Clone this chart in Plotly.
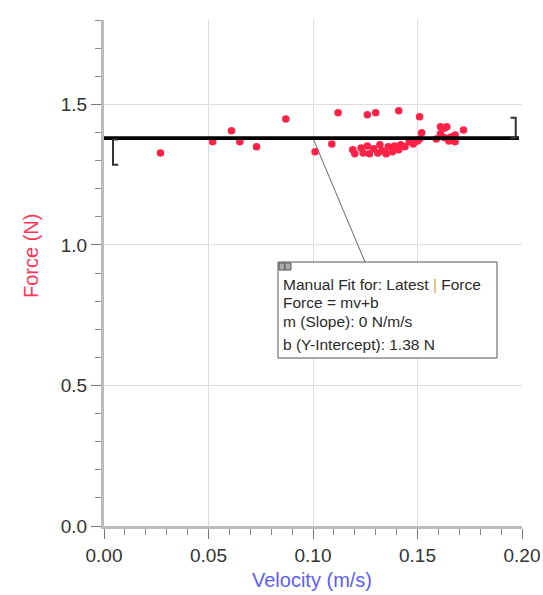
import plotly.graph_objects as go

# ---- data ----
velocity = [0.027, 0.052, 0.061, 0.065, 0.073, 0.087, 0.101, 0.109, 0.112, 0.126,
            0.130, 0.141, 0.151, 0.152, 0.161, 0.164, 0.172,
            0.119, 0.120, 0.123, 0.124, 0.126, 0.127, 0.129, 0.131, 0.132, 0.133,
            0.135, 0.136, 0.138, 0.139, 0.141, 0.142, 0.144, 0.146, 0.148, 0.150,
            0.151, 0.159, 0.161, 0.163, 0.165, 0.166, 0.168, 0.163, 0.168]
force = [1.327, 1.367, 1.406, 1.367, 1.349, 1.448, 1.331, 1.359, 1.470, 1.463,
         1.470, 1.477, 1.456, 1.399, 1.420, 1.420, 1.409,
         1.338, 1.324, 1.345, 1.327, 1.352, 1.324, 1.342, 1.327, 1.356, 1.335,
         1.324, 1.349, 1.331, 1.352, 1.338, 1.356, 1.349, 1.367, 1.359, 1.370,
         1.377, 1.377, 1.395, 1.381, 1.370, 1.384, 1.367, 1.416, 1.391]

fit_slope = 0.0
fit_intercept = 1.38
fit_line_x = [0.0, 0.1985]
bracket_left_x = 0.0043
bracket_left_low = 1.285
bracket_right_x = 0.197
bracket_right_high = 1.452
leader_from = (0.1003, 1.374)

x_ticks = [0.00, 0.05, 0.10, 0.15, 0.20]
y_ticks = [0.0, 0.5, 1.0, 1.5]

fit_text = ["Manual Fit for: Latest <span style='color:#e8a040'>|</span> Force",
            "Force = mv+b",
            "m (Slope): 0 N/m/s",
            "b (Y-Intercept): 1.38 N"]

# ---- geometry (layout only) ----
W, H = 543, 595
PL, PR, PT, PB = 104, 522, 20, 526          # plot area in page pixels
L, R, T, B = PL, W - PR, PT, H - PB
XR = [0.0, 0.2]
YR = [0.0, 1.8]

def px2x(px):
    return XR[0] + (px - PL) / (PR - PL) * (XR[1] - XR[0])

def py2y(py):
    return YR[1] - (py - PT) / (PB - PT) * (YR[1] - YR[0])

def px2paper(px):
    return (px - PL) / (PR - PL)

def py2paper(py):
    return (PB - py) / (PB - PT)

FONT = "Liberation Sans, Arial"
fig = go.Figure()

def fit(v):
    return fit_slope * v + fit_intercept

# leader line
box_l, box_r, box_t, box_b = 278, 497, 262, 358
fig.add_trace(go.Scatter(x=[leader_from[0], px2x(365)], y=[leader_from[1], py2y(box_t)],
                         mode="lines", line=dict(color="#666666", width=1),
                         hoverinfo="skip", showlegend=False))

# data points
fig.add_trace(go.Scatter(x=velocity, y=force, mode="markers",
                         marker=dict(color="#ff2248", size=7.5, line=dict(width=0)),
                         showlegend=False))

# fit line
fig.add_trace(go.Scatter(x=fit_line_x, y=[fit(v) for v in fit_line_x], mode="lines",
                         line=dict(color="#000000", width=3.8), showlegend=False))

# brackets
foot = 0.0025
fig.add_trace(go.Scatter(
    x=[bracket_left_x + foot, bracket_left_x, bracket_left_x, bracket_left_x + foot],
    y=[fit(bracket_left_x) - 0.005, fit(bracket_left_x) - 0.005, bracket_left_low, bracket_left_low],
    mode="lines", line=dict(color="#333333", width=2), showlegend=False, hoverinfo="skip"))
fig.add_trace(go.Scatter(
    x=[bracket_right_x - foot, bracket_right_x, bracket_right_x, bracket_right_x - foot],
    y=[bracket_right_high, bracket_right_high, fit(bracket_right_x), fit(bracket_right_x)],
    mode="lines", line=dict(color="#333333", width=2), showlegend=False, hoverinfo="skip"))

# annotation box
fig.add_shape(type="rect", xref="x", yref="y", x0=px2x(box_l), x1=px2x(box_r),
              y0=py2y(box_b), y1=py2y(box_t), line=dict(color="#555555", width=1),
              fillcolor="white", layer="above")
for a, b in [(279, 285), (285, 291)]:
    fig.add_shape(type="rect", xref="x", yref="y", x0=px2x(a), x1=px2x(b),
                  y0=py2y(270), y1=py2y(263), line=dict(color="#555555", width=1),
                  fillcolor="#aaaaaa", layer="above")

line_ys = [284, 302, 321, 344]
for txt, ly in zip(fit_text, line_ys):
    fig.add_annotation(x=px2x(281), y=py2y(ly), xref="x", yref="y", text=txt,
                       showarrow=False, xanchor="left", yanchor="middle",
                       font=dict(family=FONT, size=15.5, color="#2a2a2a"))

# axis titles
fig.add_annotation(x=px2paper(31), y=py2paper(256), xref="paper", yref="paper",
                   text="Force (N)", showarrow=False, textangle=-90,
                   xanchor="center", yanchor="middle",
                   font=dict(family=FONT, size=20, color="#ff3355"))
fig.add_annotation(x=px2paper(312), y=py2paper(580), xref="paper", yref="paper",
                   text="Velocity (m/s)", showarrow=False,
                   xanchor="center", yanchor="middle",
                   font=dict(family=FONT, size=20, color="#5c5cff"))

fig.update_layout(
    width=W, height=H, margin=dict(l=L, r=R, t=T, b=B),
    plot_bgcolor="white", paper_bgcolor="white",
    xaxis=dict(range=XR, tickvals=x_ticks, ticktext=[f"{v:.2f}" for v in x_ticks],
               automargin=False,
               showgrid=True, gridcolor="#dddddd", gridwidth=1, zeroline=False,
               showline=True, linecolor="#bbbbbb", linewidth=3,
               ticks="outside", ticklen=10, tickcolor="#777777", tickwidth=1,
               minor=dict(dtick=0.01, ticks="outside", ticklen=6, tickcolor="#888888", showgrid=False),
               tickfont=dict(family=FONT, size=19, color="#333333")),
    yaxis=dict(range=YR, tickvals=y_ticks, ticktext=[f"{v:.1f}" for v in y_ticks],
               automargin=False,
               showgrid=True, gridcolor="#dddddd", gridwidth=1, zeroline=False,
               showline=True, linecolor="#bbbbbb", linewidth=3,
               ticks="outside", ticklen=10, tickcolor="#777777", tickwidth=1,
               minor=dict(dtick=0.1, ticks="outside", ticklen=6, tickcolor="#888888", showgrid=False),
               tickfont=dict(family=FONT, size=19, color="#333333")),
)

fig.write_html("out.html", config={"displayModeBar": False},
               post_script="document.body.style.margin='0';document.body.style.overflow='hidden';")
